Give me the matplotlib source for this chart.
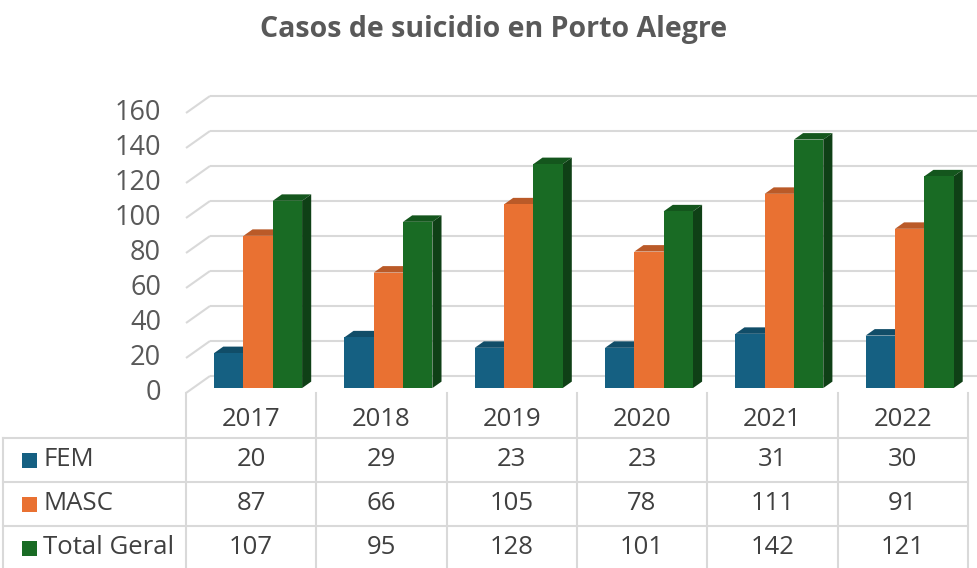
#!/usr/bin/env python3
"""Casos de suicidio en Porto Alegre - 3D-style column chart with data table."""

import matplotlib
matplotlib.use("Agg")
import matplotlib.pyplot as plt
from matplotlib.colors import to_rgb

# ---- data ----
years = ["2017", "2018", "2019", "2020", "2021", "2022"]
series_names = ["FEM", "MASC", "Total Geral"]
fem = [20, 29, 23, 23, 31, 30]
masc = [87, 66, 105, 78, 111, 91]
total = [107, 95, 128, 101, 142, 121]
y_ticks = [0, 20, 40, 60, 80, 100, 120, 140, 160]

colors = ["#156082", "#E97132", "#196B24"]
series = [fem, masc, total]

W, H = 977, 568
FONT = "Open Sans"

# pixel geometry of the plot (front plane)
X0 = 186.0        # left edge of first category, px
CAT = 130.3       # category width, px
Y0 = 393.0        # value 0 on the front plane, px
PPU = 1.75        # px per value unit


def darker(c, f):
    r, g, b = to_rgb(c)
    return (r * f, g * f, b * f)


fig = plt.figure(figsize=(W / 100, H / 100), dpi=100)
fig.patch.set_facecolor("white")

# main axes, full figure, data coords: x = category index, y = value
ax = fig.add_axes([0, 0, 1, 1])
ax.set_xlim(-0.5 - X0 / CAT, -0.5 + (W - X0) / CAT)
ax.set_ylim(-(H - Y0) / PPU, Y0 / PPU)
ax.axis("off")

# depth of the floor (front plane -> back wall)
depth_dx = 24 / CAT
depth_dy = 17 / PPU

# gridlines: diagonal on side wall + horizontal on back wall
grid_c = "#D9D9D9"
x_left = -0.5
for v in y_ticks:
    ax.plot([x_left, x_left + depth_dx], [v, v + depth_dy],
            color=grid_c, lw=1.5, zorder=1, solid_capstyle="butt")
    ax.plot([x_left + depth_dx, ax.get_xlim()[1]], [v + depth_dy, v + depth_dy],
            color=grid_c, lw=1.5, zorder=1, solid_capstyle="butt")
    ax.text(-0.5 - 25 / CAT, v, str(v), ha="right", va="center",
            fontsize=19.5, color="#595959", family=FONT)

# bars
bar_w = 0.225
front_f = 0.29      # position of bar front face inside the floor depth
bar_d = 0.38        # bar depth as fraction of floor depth
off_x = front_f * depth_dx
off_y = front_f * depth_dy
bdx = bar_d * depth_dx
bdy = bar_d * depth_dy

z = 2
for i in range(len(years)):
    for s, vals in enumerate(series):
        xl = i + off_x - 1.5 * bar_w + s * bar_w
        xr = xl + bar_w
        base = off_y
        top = off_y + vals[i]
        c = colors[s]
        # top face
        ax.fill([xl, xr, xr + bdx, xl + bdx], [top, top, top + bdy, top + bdy],
                color=darker(c, 0.8), lw=0, zorder=z)
        # side face
        ax.fill([xr, xr + bdx, xr + bdx, xr], [base, base + bdy, top + bdy, top],
                color=darker(c, 0.6), lw=0, zorder=z)
        # front face
        ax.bar(xl, vals[i], bottom=base, width=bar_w, align="edge",
               color=c, lw=0, zorder=z + 1)
        z += 2

# title
fig.text(494 / W, 1 - 29 / H, "Casos de suicidio en Porto Alegre",
         ha="center", va="center", fontsize=20.5, fontweight="bold",
         color="#595959", family=FONT)

# ---- data table (pixel coords overlay) ----
tx = fig.add_axes([0, 0, 1, 1])
tx.set_xlim(0, W)
tx.set_ylim(H, 0)
tx.axis("off")
tx.patch.set_alpha(0)

line_c = "#D9D9D9"
row_tops = [438, 482, 526]
row_h = 44
x_right = X0 + len(years) * CAT
for yy in row_tops:
    tx.plot([3, x_right], [yy, yy], color=line_c, lw=1.5)
tx.plot([3, 3], [row_tops[0], H], color=line_c, lw=1.5)
for k in range(len(years) + 1):
    xx = X0 + k * CAT
    tx.plot([xx, xx], [393, H], color=line_c, lw=1.5)

txt_c = "#404040"
fs = 18.5
for k, yr in enumerate(years):
    cx = X0 + (k + 0.5) * CAT
    tx.text(cx, 419, yr, ha="center", va="center", fontsize=fs,
            color=txt_c, family=FONT)
    for r, vals in enumerate(series):
        tx.text(cx, row_tops[r] + row_h / 2, str(vals[k]), ha="center",
                va="center", fontsize=fs, color=txt_c, family=FONT)

for r, name in enumerate(series_names):
    cy = row_tops[r] + row_h / 2
    tx.add_patch(plt.Rectangle((22, cy - 7.5), 15, 15, color=colors[r], lw=0))
    tx.text(43, cy, name, ha="left", va="center", fontsize=fs,
            color=txt_c, family=FONT)

fig.savefig("out.png", dpi=100, facecolor="white")
